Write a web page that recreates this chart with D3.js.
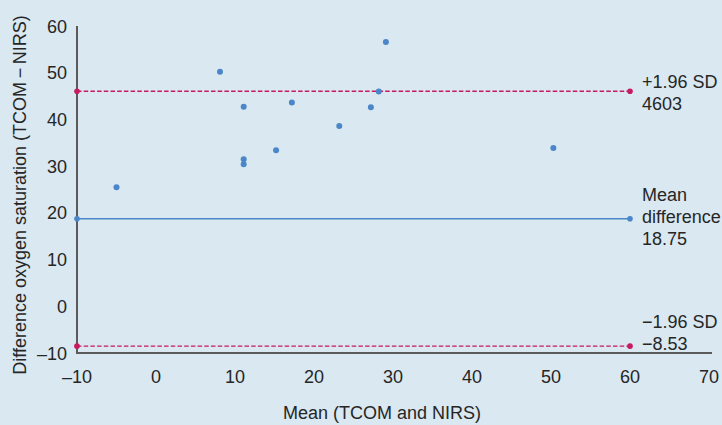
<!DOCTYPE html>
<html>
<head>
<meta charset="utf-8">
<script src="https://cdn.jsdelivr.net/npm/d3@7"></script>
<style>
  html, body { margin: 0; padding: 0; background: #d9e8f1; }
  text { font-family: "Liberation Sans", Arial, sans-serif; fill: #262626; }
</style>
</head>
<body>
<svg id="chart" width="722" height="425"></svg>
<script>
// Bland-Altman points (mean, difference)
const meanVals = [-5, 8.1, 11.1, 11.1, 11.1, 15.2, 17.2, 23.2, 27.2, 28.2, 29.1, 50.3];
const diffVals = [25.5, 50.2, 42.7, 31.5, 30.4, 33.4, 43.6, 38.6, 42.6, 46.0, 56.6, 33.9];

const xTicks = [-10, 0, 10, 20, 30, 40, 50, 60, 70];
const yTicks = [-10, 0, 10, 20, 30, 40, 50, 60];

// reference lines: value, label lines, style
const refLines = [
  { value: 46.03, labels: ["+1.96 SD", "4603"], kind: "sd" },
  { value: 18.75, labels: ["Mean", "difference", "18.75"], kind: "mean" },
  { value: -8.53, labels: ["\u22121.96 SD", "\u22128.53"], kind: "sd" }
];
const lineFrom = -10, lineTo = 60;

const blue = "#4a86c8", magenta = "#c81a5e", axisCol = "#5b5b5b";

const svg = d3.select("#chart");
const x = d3.scaleLinear().domain([-10, 70]).range([77, 709]);
const y = d3.scaleLinear().domain([-10, 60]).range([353, 26]);

// axes lines
svg.append("line")
   .attr("x1", x(-10)).attr("x2", x(-10))
   .attr("y1", y(60)).attr("y2", y(-10) + 1)
   .attr("stroke", axisCol).attr("stroke-width", 2);
svg.append("line")
   .attr("x1", x(-10) - 1).attr("x2", 712)
   .attr("y1", y(-10)).attr("y2", y(-10))
   .attr("stroke", axisCol).attr("stroke-width", 2);

// tick labels
svg.selectAll(".xt").data(xTicks).enter().append("text")
   .attr("x", d => x(d)).attr("y", 383)
   .attr("text-anchor", "middle").attr("font-size", 18)
   .text(d => d < 0 ? "\u2013" + Math.abs(d) : d);
svg.selectAll(".yt").data(yTicks).enter().append("text")
   .attr("x", 67).attr("y", d => y(d) + 6.5)
   .attr("text-anchor", "end").attr("font-size", 18)
   .text(d => d < 0 ? "\u2013" + Math.abs(d) : d);

// axis titles
svg.append("text")
   .attr("x", 382).attr("y", 419)
   .attr("text-anchor", "middle").attr("font-size", 18)
   .text("Mean (TCOM and NIRS)");
svg.append("text")
   .attr("transform", "translate(26,195) rotate(-90)")
   .attr("text-anchor", "middle").attr("font-size", 18)
   .text("Difference oxygen saturation (TCOM\u2009\u2212\u2009NIRS)");

// reference lines
const g = svg.selectAll(".ref").data(refLines).enter().append("g");
g.append("line")
   .attr("x1", x(lineFrom)).attr("x2", x(lineTo))
   .attr("y1", d => y(d.value)).attr("y2", d => y(d.value))
   .attr("stroke", d => d.kind === "sd" ? magenta : blue)
   .attr("stroke-width", 1.4)
   .attr("stroke-dasharray", d => d.kind === "sd" ? "4.5,2.2" : null);
g.selectAll("circle").data(d => [lineFrom, lineTo].map(v => ({ v, d }))).enter().append("circle")
   .attr("cx", e => x(e.v)).attr("cy", e => y(e.d.value)).attr("r", 2.8)
   .attr("fill", e => e.d.kind === "sd" ? magenta : blue);

// labels next to the lines
const labelY = { "+1.96 SD": 88, "Mean": 201, "\u22121.96 SD": 328 };
g.each(function (d) {
  const t = d3.select(this).append("text")
     .attr("x", 642).attr("y", labelY[d.labels[0]]).attr("font-size", 18);
  d.labels.forEach((s, i) => {
    t.append("tspan").attr("x", 642).attr("dy", i === 0 ? 0 : 22).text(s);
  });
});

// points
svg.selectAll(".pt").data(meanVals).enter().append("circle")
   .attr("cx", d => x(d)).attr("cy", (d, i) => y(diffVals[i]))
   .attr("r", 3).attr("fill", blue);
</script>
</body>
</html>
